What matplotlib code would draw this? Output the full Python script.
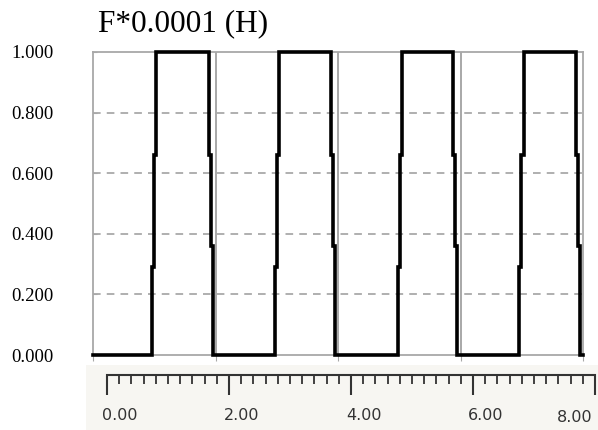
import matplotlib
matplotlib.use('Agg')
import matplotlib.pyplot as plt
from matplotlib.patches import Rectangle

# waveform vertices (time, value)
t = [0.00, 0.963, 0.963, 0.996, 0.996, 1.029, 1.029,
     1.894, 1.894, 1.927, 1.927, 1.959, 1.959,
     2.971, 2.971, 3.004, 3.004, 3.037, 3.037,
     3.886, 3.886, 3.918, 3.918, 3.951, 3.951,
     4.980, 4.980, 5.010, 5.010, 5.040, 5.040,
     5.880, 5.880, 5.910, 5.910, 5.940, 5.940,
     6.955, 6.955, 6.990, 6.990, 7.040, 7.040,
     7.886, 7.886, 7.918, 7.918, 7.951, 7.951, 8.00]
f = [0.00, 0.00, 0.29, 0.29, 0.66, 0.66, 1.00,
     1.00, 0.66, 0.66, 0.36, 0.36, 0.00,
     0.00, 0.29, 0.29, 0.66, 0.66, 1.00,
     1.00, 0.66, 0.66, 0.36, 0.36, 0.00,
     0.00, 0.29, 0.29, 0.66, 0.66, 1.00,
     1.00, 0.66, 0.66, 0.36, 0.36, 0.00,
     0.00, 0.29, 0.29, 0.66, 0.66, 1.00,
     1.00, 0.66, 0.66, 0.36, 0.36, 0.00, 0.00]

yticks = [0.0, 0.2, 0.4, 0.6, 0.8, 1.0]
ylabels = ['0.000', '0.200', '0.400', '0.600', '0.800', '1.000']
xmajor = [0, 2, 4, 6, 8]
xlabels = ['0.00', '2.00', '4.00', '6.00', '8.00']
title = 'F*0.0001 (H)'

W, H = 598, 430
fig = plt.figure(figsize=(W / 100, H / 100), dpi=100)
fig.patch.set_facecolor('white')

# light strip behind the time ruler
fig.patches.append(Rectangle((86 / W, 0), 1, 65 / H, transform=fig.transFigure,
                             facecolor='#f7f6f2', edgecolor='none', zorder=-5))

ax = fig.add_axes([93 / W, (H - 355) / H, 490 / W, 303 / H])
ax.set_xlim(0, 8)
ax.set_ylim(0, 1)
grey = '#a8a8a8'
for s in ax.spines.values():
    s.set_color(grey)
    s.set_linewidth(1.3)
for y in yticks[1:-1]:
    ax.axhline(y, color='#9a9a9a', lw=1.1, ls=(0, (5, 4)), zorder=1)
for x in xmajor[1:-1]:
    ax.axvline(x, color=grey, lw=1.4, zorder=1)
ax.plot(t, f, color='black', lw=2.6, solid_joinstyle='miter', zorder=3, clip_on=False)

ax.set_yticks(yticks)
ax.set_yticklabels(ylabels, family='Liberation Serif', fontsize=13.5)
ax.tick_params(axis='y', direction='in', length=3, color=grey, pad=28.5)
ax.set_xticks(xmajor)
ax.set_xticklabels([])
ax.tick_params(axis='x', direction='out', length=4, color=grey)

fig.text(98 / W, (H - 24) / H, title, family='Liberation Serif', fontsize=22.5,
         va='center', ha='left')

# separate time ruler below the plot
rx = fig.add_axes([107 / W, (H - 376) / H, 488 / W, 1 / H])
rx.set_xlim(0, 8)
rx.set_ylim(0, 1)
rx.patch.set_alpha(0)
for k in ['left', 'right', 'bottom']:
    rx.spines[k].set_visible(False)
rx.spines['top'].set_color('#333333')
rx.spines['top'].set_linewidth(1.5)
rx.set_yticks([])
rx.set_xticks(xmajor)
rx.set_xticks([i * 0.2 for i in range(41)], minor=True)
rx.set_xticklabels([])
rx.tick_params(axis='x', which='major', direction='out', length=14, width=1.5,
               color='#333333', bottom=True)
rx.tick_params(axis='x', which='minor', direction='out', length=6, width=1.3,
               color='#333333', bottom=True)
for x, lab in zip(xmajor, xlabels):
    if x == xmajor[-1]:
        rx.annotate(lab, (x, 0), xytext=(-2, -42), textcoords='offset pixels',
                    ha='right', va='center', family='DejaVu Sans', fontsize=11.5,
                    color='#333333')
    else:
        rx.annotate(lab, (x, 0), xytext=(-5, -39), textcoords='offset pixels',
                    ha='left', va='center', family='DejaVu Sans', fontsize=11.5,
                    color='#333333')

fig.savefig('out.png', dpi=100)
